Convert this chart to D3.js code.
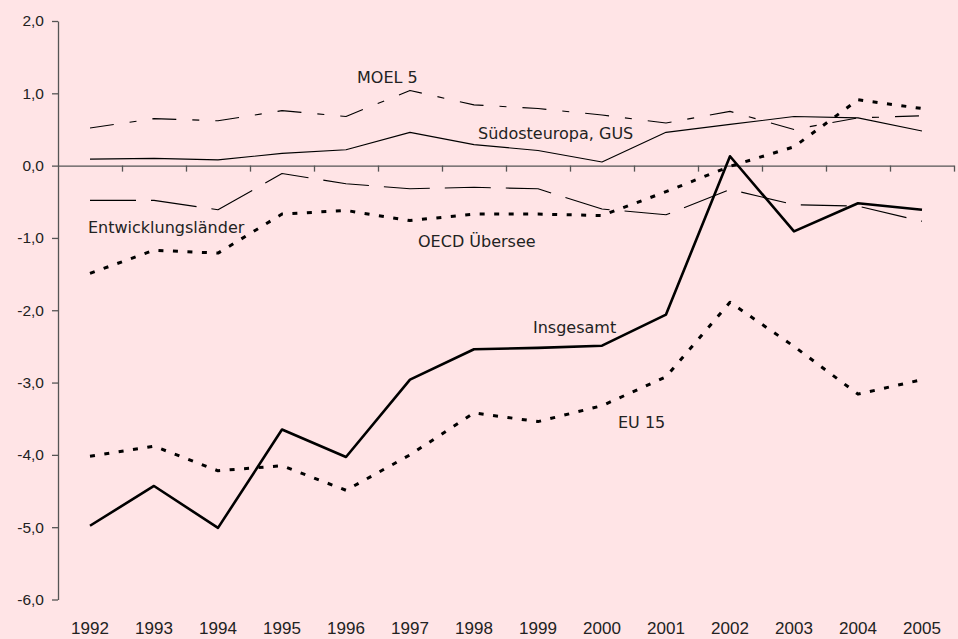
<!DOCTYPE html>
<html lang="de">
<head>
  <meta charset="UTF-8">
  <title>Salden nach Regionen 1992-2005</title>
  <style>
    * { margin: 0; box-sizing: border-box; }
    body { background: #ffe4e6; }
    svg { display: block; font-family: "Century Gothic", "DejaVu Sans", sans-serif; }
    .axis path, .axis line { stroke: #555; stroke-width: 1.3; }
    .axis text { fill: #222; font-size: 15.5px; }
    .label { fill: #222; font-size: 16px; }
  </style>
</head>
<body>
  <svg></svg>
  <script src="https://d3js.org/d3.v7.min.js"></script>
  <script>
    const years = [1992, 1993, 1994, 1995, 1996, 1997, 1998, 1999, 2000, 2001, 2002, 2003, 2004, 2005];
    const yTicks = [2, 1, 0, -1, -2, -3, -4, -5, -6];

    const insgesamt = [-4.98, -4.43, -5.01, -3.65, -4.03, -2.96, -2.54, -2.52, -2.49, -2.06, 0.13, -0.91, -0.52, -0.61];
    const eu15 = [-4.02, -3.88, -4.22, -4.15, -4.49, -4.00, -3.42, -3.54, -3.32, -2.92, -1.89, -2.50, -3.16, -2.96];
    const oecdUebersee = [-1.49, -1.17, -1.21, -0.67, -0.62, -0.76, -0.67, -0.67, -0.69, -0.36, -0.01, 0.26, 0.91, 0.79];
    const moel5 = [0.52, 0.65, 0.62, 0.76, 0.68, 1.04, 0.84, 0.79, 0.70, 0.59, 0.75, 0.50, 0.66, 0.69];
    const suedosteuropaGus = [0.09, 0.10, 0.08, 0.17, 0.22, 0.46, 0.29, 0.21, 0.05, 0.46, 0.57, 0.68, 0.66, 0.48];
    const entwicklungslaender = [-0.48, -0.48, -0.61, -0.11, -0.25, -0.32, -0.30, -0.32, -0.60, -0.68, -0.33, -0.54, -0.56, -0.77];

    const width = 958;
    const height = 639;
    const plotLeft = 58, plotRight = 954, plotTop = 21, plotBottom = 599.5;

    const svg = d3.select('svg')
      .attr('width', width)
      .attr('height', height);

    svg.append('rect')
      .attr('width', width)
      .attr('height', height)
      .attr('fill', '#ffe4e6');

    const xBand = d3.scaleBand().domain(years).range([plotLeft, plotRight]);
    const xEdge = d3.scaleLinear().domain([0, years.length]).range([plotLeft, plotRight]);
    const y = d3.scaleLinear().domain([-6, 2]).range([plotBottom, plotTop]);

    const de = d3.formatLocale({ decimal: ',', thousands: '.', grouping: [3], currency: ['', ' €'], minus: '-' });
    const fmt = de.format('.1f');

    // y axis
    svg.append('g')
      .attr('class', 'axis')
      .attr('transform', 'translate(' + plotLeft + ',0)')
      .call(d3.axisLeft(y).tickValues(yTicks).tickFormat(fmt).tickSize(6).tickSizeOuter(0).tickPadding(8));

    // x axis on the zero line, ticks between the years
    svg.append('g')
      .attr('class', 'axis')
      .attr('transform', 'translate(0,' + y(0) + ')')
      .call(d3.axisBottom(xEdge).tickValues(d3.range(1, years.length + 1)).tickFormat('').tickSize(6).tickSizeOuter(0));

    // year labels at the bottom
    svg.append('g')
      .attr('class', 'axis')
      .attr('transform', 'translate(0,' + (plotBottom + 16) + ')')
      .call(d3.axisBottom(xBand).tickSize(0).tickPadding(6))
      .call(g => g.select('.domain').remove())
      .selectAll('text').style('font-size', '17px');

    const series = [
      { name: 'Südosteuropa, GUS', values: suedosteuropaGus, width: 1.1, dash: null, lx: 478, ly: 139 },
      { name: 'Entwicklungsländer', values: entwicklungslaender, width: 1.1, dash: '46,15', lx: 88, ly: 233 },
      { name: 'MOEL 5', values: moel5, width: 1.1, dash: '24,16,7,16', lx: 357, ly: 83 },
      { name: 'OECD Übersee', values: oecdUebersee, width: 3, dash: '5,9.5', lx: 418, ly: 247 },
      { name: 'EU 15', values: eu15, width: 3, dash: '5,9.5', lx: 618, ly: 428 },
      { name: 'Insgesamt', values: insgesamt, width: 2.6, dash: null, lx: 533, ly: 333 }
    ];

    const line = d3.line()
      .x((d, i) => xBand(years[i]) + xBand.bandwidth() / 2)
      .y(d => y(d));

    svg.append('g')
      .selectAll('path')
      .data(series)
      .enter()
      .append('path')
      .attr('d', d => line(d.values))
      .attr('fill', 'none')
      .attr('stroke', '#000')
      .attr('stroke-width', d => d.width)
      .attr('stroke-dasharray', d => d.dash)
      .attr('stroke-linejoin', 'round');

    svg.append('g')
      .selectAll('text')
      .data(series)
      .enter()
      .append('text')
      .attr('class', 'label')
      .attr('x', d => d.lx)
      .attr('y', d => d.ly)
      .text(d => d.name);
  </script>
</body>
</html>
